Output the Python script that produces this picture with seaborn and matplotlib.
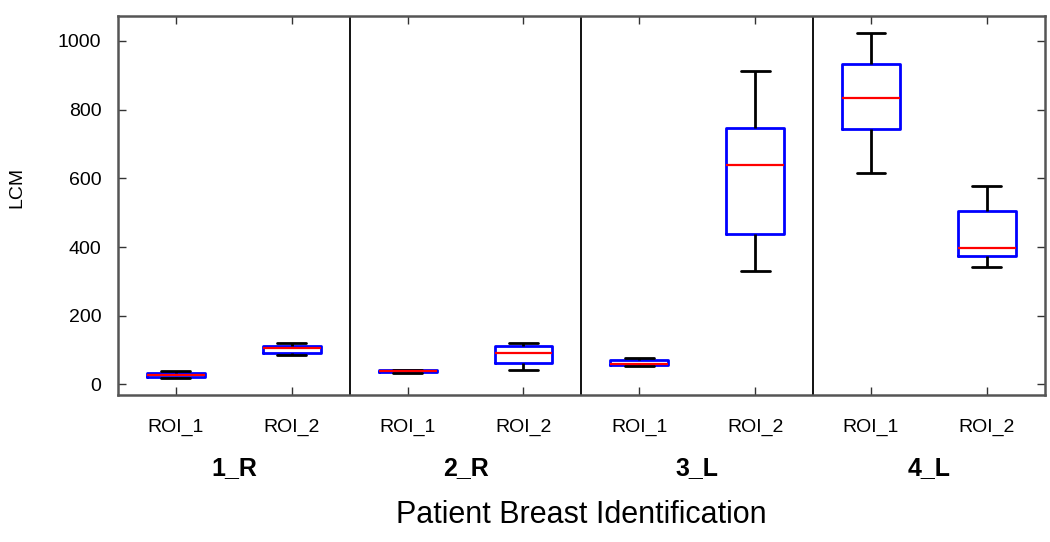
import matplotlib
matplotlib.use('Agg')
import matplotlib.pyplot as plt
import matplotlib.transforms as mtransforms
import seaborn as sns
import pandas as pd

# five-number summaries (min, q1, median, q3, max)
patients = ['1_R', '2_R', '3_L', '4_L']
rois = ['ROI_1', 'ROI_2']
summaries = {
    ('1_R', 'ROI_1'): [18, 22, 28, 33, 38],
    ('1_R', 'ROI_2'): [86, 92, 106, 112, 122],
    ('2_R', 'ROI_1'): [32, 36, 38, 41, 42],
    ('2_R', 'ROI_2'): [42, 62, 92, 112, 122],
    ('3_L', 'ROI_1'): [54, 57, 61, 72, 76],
    ('3_L', 'ROI_2'): [330, 437, 640, 747, 912],
    ('4_L', 'ROI_1'): [615, 745, 833, 934, 1023],
    ('4_L', 'ROI_2'): [341, 375, 396, 504, 578],
}
y_ticks = [0, 200, 400, 600, 800, 1000]

rows = []
for p in patients:
    for r in rois:
        for v in summaries[(p, r)]:
            rows.append({'box': f'{p} {r}', 'patient': p, 'roi': r, 'LCM': v})
df = pd.DataFrame(rows)
order = [f'{p} {r}' for p in patients for r in rois]

sns.set_style('ticks')
plt.rcParams['font.family'] = ['Liberation Sans', 'DejaVu Sans']
plt.rcParams['text.color'] = 'black'
plt.rcParams['xtick.labelcolor'] = 'black'
plt.rcParams['ytick.labelcolor'] = 'black'
plt.rcParams['axes.labelcolor'] = 'black'

fig = plt.figure(figsize=(10.5, 5.42), dpi=100)
ax = fig.add_axes([0.1124, 0.271, 0.8826, 0.699])

sns.boxplot(
    data=df, x='box', y='LCM', order=order,
    fill=False, width=0.5, whis=(0, 100), linewidth=2.0,
    boxprops=dict(color='#0000ff'),
    medianprops=dict(color='#ff0000', linewidth=1.6),
    whiskerprops=dict(color='black'),
    capprops=dict(color='black'),
    ax=ax,
)

# separators between patients
for xs in [1.5, 3.5, 5.5]:
    ax.axvline(xs, color='#111111', lw=1.4)

ax.set_xlim(-0.5, 7.5)
ax.set_ylim(-31, 1072)
ax.set_yticks(y_ticks)
ax.set_xticks(range(len(order)))
ax.set_xticklabels([r for p in patients for r in rois])
ax.tick_params(direction='in', top=True, right=True, length=6,
               width=1.0, color='#333333', labelsize=14, pad=12)
ax.tick_params(axis='x', pad=17)

for s in ax.spines.values():
    s.set_color('#555555')
    s.set_linewidth(1.8)

trans = mtransforms.blended_transform_factory(ax.transData, ax.transAxes)
for i, p in enumerate(patients):
    ax.text(2 * i + 0.5, -0.193, p, transform=trans, ha='center',
            va='center', fontsize=18, fontweight='bold')

ax.set_xlabel('Patient Breast Identification', fontsize=22, labelpad=46)
ax.set_ylabel('LCM', fontsize=14)
ax.yaxis.set_label_coords(-0.100, 0.549)

fig.savefig('out.png', dpi=100)
